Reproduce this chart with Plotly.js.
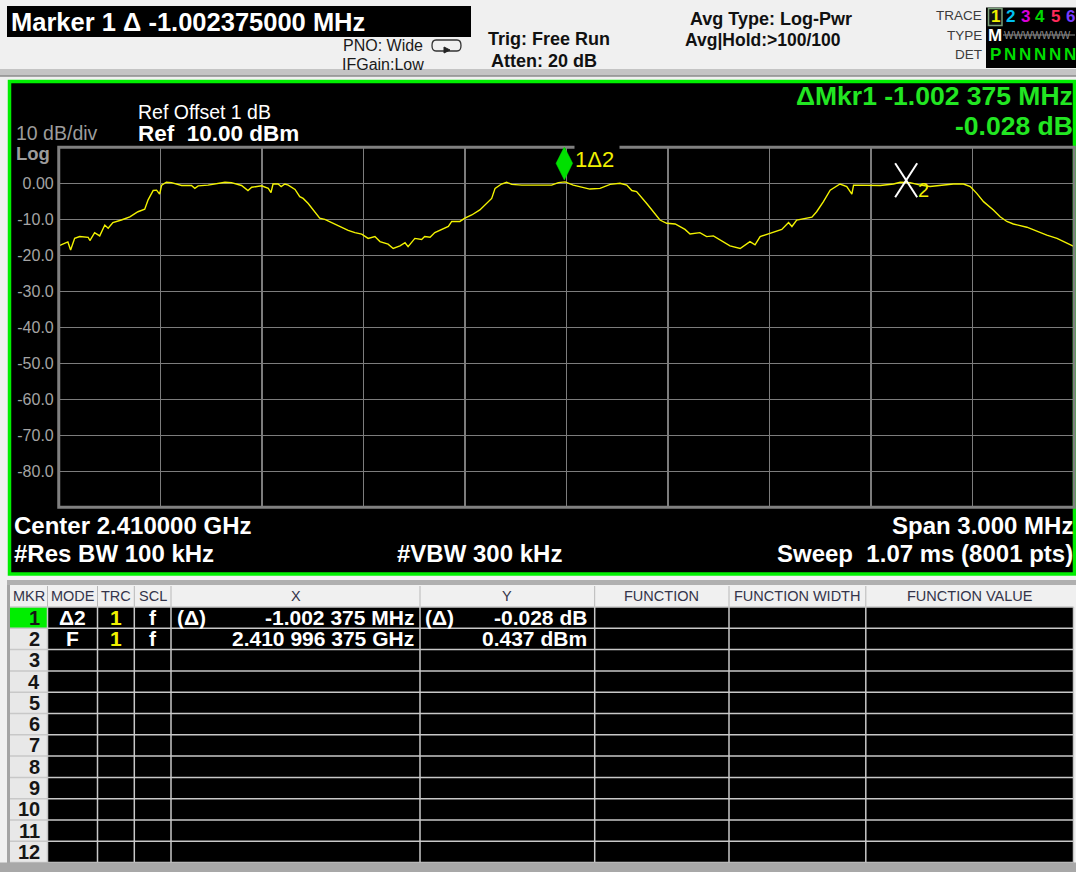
<!DOCTYPE html>
<html><head><meta charset="utf-8">
<script src="https://cdn.plot.ly/plotly-3.0.1.min.js"></script>
<style>html,body{margin:0;padding:0;background:#f0f0f0;overflow:hidden}#chart{width:1076px;height:872px}</style>
</head><body><div id="chart"></div>
<script>
// ---------------- data ----------------
const freqOffsetMHz = [-1.500,-1.487,-1.473,-1.465,-1.453,-1.438,-1.413,-1.408,-1.394,-1.379,
 -1.364,-1.354,-1.340,-1.315,-1.290,-1.266,-1.246,-1.236,-1.221,-1.211,
 -1.202,-1.196,-1.182,-1.167,-1.137,-1.108,-1.098,-1.088,-1.059,-1.009,
 -0.990,-0.960,-0.941,-0.930,-0.901,-0.881,-0.873,-0.867,-0.852,-0.843,
 -0.832,-0.822,-0.802,-0.788,-0.778,-0.763,-0.743,-0.729,-0.714,-0.694,
 -0.664,-0.645,-0.625,-0.605,-0.586,-0.566,-0.551,-0.527,-0.512,-0.492,
 -0.477,-0.468,-0.448,-0.428,-0.419,-0.403,-0.389,-0.364,-0.349,-0.339,
 -0.315,-0.300,-0.280,-0.256,-0.231,-0.221,-0.211,-0.192,-0.177,-0.162,
 -0.132,-0.083,-0.044,-0.024,-0.004,0.020,0.069,0.099,0.129,0.158,
 0.178,0.193,0.207,0.237,0.257,0.276,0.296,0.321,0.350,0.365,
 0.394,0.414,0.434,0.463,0.483,0.513,0.542,0.557,0.572,0.601,
 0.636,0.656,0.666,0.680,0.710,0.725,0.739,0.759,0.779,0.808,
 0.828,0.843,0.848,0.867,0.927,0.966,0.986,1.015,1.045,1.074,
 1.104,1.143,1.173,1.193,1.212,1.232,1.261,1.281,1.301,1.320,
 1.360,1.390,1.419,1.449,1.478,1.500];
const levelDbm = [-17.4,-16.9,-16.3,-18.5,-15.3,-14.8,-15.0,-15.9,-13.7,-14.6,
 -11.6,-12.5,-10.9,-10.2,-9.3,-7.9,-7.2,-4.6,-2.0,-1.9,
 -3.0,-0.5,0.3,0.2,-0.6,-0.6,-1.4,-0.7,-0.5,0.3,
 0.2,-0.6,-2.0,-1.1,-0.7,-1.4,-2.6,-0.2,-0.2,-0.9,
 -0.2,-0.5,-1.7,-3.7,-4.2,-5.6,-7.9,-9.7,-10.0,-10.9,
 -12.2,-13.1,-13.7,-14.1,-15.3,-14.8,-16.2,-16.9,-18.1,-17.4,
 -16.5,-17.6,-15.3,-15.6,-14.8,-15.0,-13.7,-12.5,-12.0,-10.6,
 -10.6,-9.7,-8.8,-7.4,-5.1,-4.2,-1.4,-0.2,0.3,-0.3,
 -0.5,-0.6,-0.5,0.2,0.4,-0.5,-1.6,-1.4,-0.3,0.0,
 -0.5,-2.0,-2.3,-5.6,-7.9,-10.2,-11.1,-11.3,-12.8,-14.1,
 -13.7,-14.8,-14.6,-16.2,-17.4,-18.1,-16.2,-17.1,-14.8,-13.9,
 -12.8,-10.9,-12.0,-10.2,-9.7,-9.4,-7.9,-5.1,-1.9,-0.2,
 -0.9,-3.0,-0.5,-0.5,-0.6,-0.2,0.3,0.2,-0.5,-0.9,
 -0.6,-0.2,-0.2,-0.9,-2.8,-5.1,-7.4,-9.3,-10.6,-11.3,
 -12.2,-13.4,-14.4,-15.3,-16.5,-17.6];
const yTickVals = [0,-10,-20,-30,-40,-50,-60,-70,-80];
const yTickText = ['0.00','-10.0','-20.0','-30.0','-40.0','-50.0','-60.0','-70.0','-80.0'];
const markerFreqMHz = [-0.006375, 0.996375];
const markerLevel = [0.409, 0.437];
const tableHeaders = ['MKR','MODE','TRC','SCL','X','Y','FUNCTION','FUNCTION WIDTH','FUNCTION VALUE'];
const mkrNumbers = ['1','2','3','4','5','6','7','8','9','10','11','12'];
const mkrMode = ['Δ2','F'];
const mkrTrace = ['1','1'];
const mkrScale = ['f','f'];
const mkrXPrefix = ['(Δ)',''];
const mkrX = ['-1.002 375 MHz','2.410 996 375 GHz'];
const mkrYPrefix = ['(Δ)',''];
const mkrY = ['-0.028 dB','0.437 dBm'];
const traceNums = ['1','2','3','4','5','6'];
const traceTypes = ['M','W','W','W','W','W'];
const traceDets = ['P','N','N','N','N','N'];

// ---------------- drawing helpers ----------------
const W = 1076, H = 872;
const FONT = '"Liberation Sans", Arial, sans-serif';
const PX = x => x / W, PY = y => 1 - y / H;
const shapes = [], annotations = [];
function rect(x0, y0, x1, y1, fill, lc, lw, layer) {
  shapes.push({type:'rect', xref:'paper', yref:'paper', x0:PX(x0), x1:PX(x1), y0:PY(y1), y1:PY(y0),
    fillcolor: fill || 'rgba(0,0,0,0)', line:{color: lc || 'rgba(0,0,0,0)', width: lw || 0}, layer: layer || 'below'});
}
function seg(x0, y0, x1, y1, color, w, layer) {
  shapes.push({type:'line', xref:'paper', yref:'paper', x0:PX(x0), x1:PX(x1), y0:PY(y0), y1:PY(y1),
    line:{color, width:w}, layer: layer || 'below'});
}
function text(t, x, y, size, color, o) {
  o = o || {};
  annotations.push({xref:'paper', yref:'paper', x:PX(x), y:PY(y), text:t, showarrow:false,
    xanchor:o.anchor || 'left', yanchor:'middle', borderpad:0,
    font:{family:FONT, size, color, weight:o.bold ? 700 : 400}});
}

// ---------------- header ----------------
rect(0, 69, W, 76, '#c4c4c4');
seg(0, 76, W, 76, '#8c8c8c', 1.5);
rect(7, 6, 471, 37, '#000');
text('Marker 1 Δ -1.002375000 MHz', 10, 21.5, 25.5, '#ffffff', {bold:1});
text('PNO: Wide', 342, 45, 16, '#1a1a1a');
text('IFGain:Low', 341, 65, 16, '#1a1a1a');
shapes.push({type:'path', xref:'paper', yref:'paper', xsizemode:'pixel', ysizemode:'pixel', xanchor:0, yanchor:1,
  path:'M436,-40 L457,-40 Q461,-40 461,-45.5 Q461,-51 457,-51 L436,-51 Q432,-51 432,-45.5 Q432,-40 436,-40 Z',
  line:{color:'#333', width:1.3}, fillcolor:'rgba(0,0,0,0)', layer:'below'});
shapes.push({type:'path', xref:'paper', yref:'paper', xsizemode:'pixel', ysizemode:'pixel', xanchor:0, yanchor:1,
  path:'M444,-47 L450,-50 L444,-53 Z', line:{color:'#222', width:1}, fillcolor:'#222', layer:'below'});
text('Trig: Free Run', 487, 39, 18, '#111', {bold:1});
text('Atten: 20 dB', 490, 61.5, 18, '#111', {bold:1});
text('Avg Type: Log-Pwr', 688.5, 18.5, 18, '#111', {bold:1});
text('Avg|Hold:>100/100', 683.5, 40, 17.5, '#111', {bold:1});
text('TRACE', 983, 15.5, 13.5, '#3c3c3c', {anchor:'right'});
text('TYPE', 983, 35, 13.5, '#3c3c3c', {anchor:'right'});
text('DET', 983, 54, 13.5, '#3c3c3c', {anchor:'right'});
rect(986, 7.5, W, 68, '#000');
rect(988.5, 8.5, 1002, 25.5, '#111', '#7aa07a', 1.5);
const traceColors = ['#f0f000','#00c0f0','#d800d8','#00d800','#ff2a5a','#7a3cff'];
traceNums.forEach((t, i) => text(t, 995 + i * 15, 17, 17, traceColors[i], {bold:1, anchor:'center'}));
text(traceTypes[0], 995, 36, 17, '#ffffff', {bold:1, anchor:'center'});
text(traceTypes.slice(1).join('') + 'WW', 1003, 36, 10, '#8a8a8a');
seg(1003, 35, 1075, 35, '#8a8a8a', 1);
traceDets.forEach((t, i) => text(t, 995 + i * 15, 55, 17, '#00dd00', {bold:1, anchor:'center'}));

// ---------------- graph frame & texts ----------------
rect(9.5, 81.5, 1074.5, 574, '#000', '#00ee00', 3.5);
text('Ref Offset 1 dB', 136.7, 111.5, 19.5, '#ffffff');
text('Ref  10.00 dBm', 136.7, 133.5, 22.5, '#ffffff', {bold:1});
text('10 dB/div', 15, 133, 19.5, '#9c9c9c');
text('Log', 15, 153.5, 18.5, '#9c9c9c', {bold:1});
text('ΔMkr1 -1.002 375 MHz', 1073.5, 96, 26.5, '#22e622', {bold:1, anchor:'right'});
text('-0.028 dB', 1073.5, 126.5, 26.5, '#22e622', {bold:1, anchor:'right'});
text('Center 2.410000 GHz', 13, 525.5, 24, '#ffffff', {bold:1});
text('#Res BW 100 kHz', 13, 553, 24, '#ffffff', {bold:1});
text('#VBW 300 kHz', 396, 553, 24, '#ffffff', {bold:1});
text('Span 3.000 MHz', 1073.5, 525.5, 24, '#ffffff', {bold:1, anchor:'right'});
text('Sweep  1.07 ms (8001 pts)', 1073.5, 553, 24, '#ffffff', {bold:1, anchor:'right'});

// ---------------- marker table ----------------
const colX = [10, 47.5, 97.5, 134.3, 171, 420, 594.7, 729, 865.8, 1073.5];
const headTop = 585, headBot = 607, rowH = 21.3, nRows = mkrNumbers.length;
const tabBot = headBot + nRows * rowH;
rect(7, 580, W, 585, '#b0b0b0');
rect(7, 585, 10, H, '#a4a4a4');
rect(10, headTop, 1073.5, headBot, '#f0f0f0');
for (let i = 1; i < colX.length - 1; i++) seg(colX[i], headTop + 1, colX[i], headBot, '#b8b8b8', 1);
tableHeaders.forEach((h, i) => text(h, (colX[i] + colX[i + 1]) / 2, 596, 14.5, '#34344a', {anchor:'center'}));
mkrNumbers.forEach((n, r) => {
  const y0 = headBot + r * rowH;
  rect(colX[0], y0, colX[1], y0 + rowH, r === 0 ? '#00ee00' : '#e8e8e8');
  rect(colX[1], y0, colX[9], y0 + rowH, '#000');
});
for (let r = 0; r <= nRows; r++) seg(colX[0], headBot + r * rowH, colX[9], headBot + r * rowH, '#c8c8c8', 1.5);
for (let i = 1; i < colX.length; i++) seg(colX[i], headBot, colX[i], tabBot, '#c8c8c8', 1.5);
rect(0, tabBot, W, H, '#a8a8a8');
mkrNumbers.forEach((n, r) => text(n, 41, headBot + (r + 0.5) * rowH, 20, '#151515', {bold:1, anchor:'right'}));
mkrMode.forEach((m, r) => {
  const cy = headBot + (r + 0.5) * rowH;
  text(m, (colX[1] + colX[2]) / 2, cy, 21, '#ffffff', {bold:1, anchor:'center'});
  text(mkrTrace[r], (colX[2] + colX[3]) / 2, cy, 21, '#f0f000', {bold:1, anchor:'center'});
  text(mkrScale[r], (colX[3] + colX[4]) / 2, cy, 21, '#ffffff', {bold:1, anchor:'center'});
  if (mkrXPrefix[r]) text(mkrXPrefix[r], 175.6, cy, 21, '#ffffff', {bold:1});
  text(mkrX[r], 415, cy, 21, '#ffffff', {bold:1, anchor:'right'});
  if (mkrYPrefix[r]) text(mkrYPrefix[r], 423.6, cy, 21, '#ffffff', {bold:1});
  text(mkrY[r], 588, cy, 21, '#ffffff', {bold:1, anchor:'right'});
});

// ---------------- plot-area overlays tied to the axes ----------------
shapes.push({type:'rect', xref:'x domain', yref:'y domain', x0:0, x1:1, y0:0, y1:1,
  line:{color:'#808080', width:3}, fillcolor:'rgba(0,0,0,0)', layer:'above'});
// marker 1 diamond
shapes.push({type:'path', xref:'x', yref:'y', xsizemode:'pixel', ysizemode:'pixel',
  xanchor:markerFreqMHz[0], yanchor:markerLevel[0],
  path:'M0,1.8 L8.3,18.5 L0,35 L-8.3,18.5 Z', fillcolor:'#00e000', line:{color:'#00e000', width:0.5}, layer:'above'});
// marker 2 "X"
[[-8.6, 18.4, 13.4, -15.6], [13.4, 18.4, -8.6, -15.6]].forEach(p => shapes.push({type:'line', xref:'x', yref:'y',
  xsizemode:'pixel', ysizemode:'pixel', xanchor:markerFreqMHz[1], yanchor:markerLevel[1],
  x0:p[0], y0:p[1], x1:p[2], y1:p[3], line:{color:'#ffffff', width:2}, layer:'above'}));
annotations.push({xref:'x', yref:'y', x:markerFreqMHz[0], y:markerLevel[0], xshift:9.2, yshift:5.8,
  xanchor:'left', yanchor:'bottom', width:44, height:31, align:'left', valign:'middle', bgcolor:'#000',
  borderpad:0, showarrow:false, text:'1Δ2', font:{family:FONT, size:22, color:'#f0f000'}});
annotations.push({xref:'x', yref:'y', x:markerFreqMHz[1], y:markerLevel[1], xshift:19.4, yshift:-8.3,
  xanchor:'center', yanchor:'middle', borderpad:0, showarrow:false, text:'2', font:{family:FONT, size:20, color:'#f0f000'}});

const trace = {x:freqOffsetMHz, y:levelDbm, type:'scatter', mode:'lines',
  line:{color:'#f2f200', width:1.4}, hoverinfo:'skip'};

const layout = {
  width:W, height:H, margin:{l:0, r:0, t:0, b:0, pad:0},
  paper_bgcolor:'#f0f0f0', plot_bgcolor:'#000', showlegend:false, hovermode:false,
  font:{family:FONT},
  xaxis:{domain:[58.75 / W, 1074.25 / W], range:[-1.5, 1.5], tickmode:'linear', tick0:-1.5, dtick:0.3,
    showticklabels:false, showgrid:true, gridcolor:'#7c7c7c', gridwidth:1.5, zeroline:false, showline:false, ticks:''},
  yaxis:{domain:[1 - 507.3 / H, 1 - 147.3 / H], range:[-90, 10], tickmode:'array', tickvals:yTickVals, ticktext:yTickText,
    tickfont:{family:FONT, size:16, color:'#a4a4a4'}, showgrid:true, gridcolor:'#7c7c7c', gridwidth:1.5,
    zeroline:false, showline:false, ticks:'', ticklabelstandoff:4},
  shapes, annotations
};
Plotly.newPlot('chart', [trace], layout, {staticPlot:true, displayModeBar:false});
</script></body></html>
